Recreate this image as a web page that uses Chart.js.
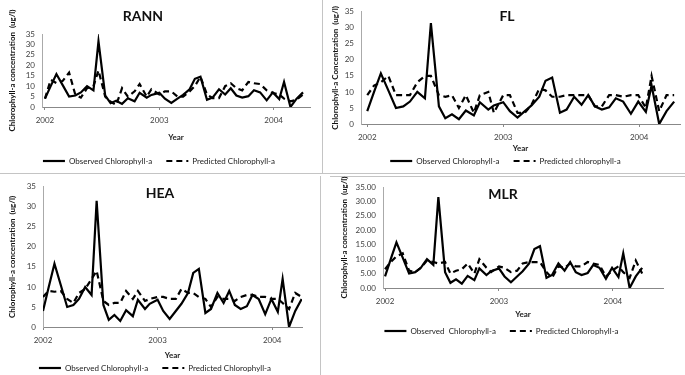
<!DOCTYPE html>
<html>
<head>
<meta charset="utf-8">
<script src="https://cdn.jsdelivr.net/npm/chart.js@4/dist/chart.umd.min.js"></script>
<style>
    body { margin: 0; width: 685px; height: 375px; overflow: hidden; position: relative; background: #fff; font-family: Lato, "Open Sans", sans-serif; }
    canvas { position: absolute; }
    .title { position: absolute; font-weight: bold; font-size: 14px; color: #111; transform: translate(-50%, -50%); white-space: nowrap; }
    .rule { position: absolute; background: #c4c4c4; }
</style>
</head>
<body>
<div class="rule" style="left:0;top:173px;width:685px;height:1px"></div>
<div class="rule" style="left:330px;top:176px;width:355px;height:1px"></div>
<div class="rule" style="left:322px;top:0;width:1px;height:173px"></div>
<div class="rule" style="left:320px;top:176px;width:1px;height:199px"></div>

<canvas id="rann" style="left:0;top:0"></canvas>
<canvas id="fl" style="left:322px;top:0"></canvas>
<canvas id="hea" style="left:0;top:175px"></canvas>
<canvas id="mlr" style="left:330px;top:175px"></canvas>

<div class="title" style="left:143px;top:15px">RANN</div>
<div class="title" style="left:507px;top:15px">FL</div>
<div class="title" style="left:160px;top:192px">HEA</div>
<div class="title" style="left:503px;top:193px">MLR</div>

<script>
// sampling dates as decimal years
const sampleYears = [
    2002.000, 2002.050, 2002.100, 2002.155, 2002.211, 2002.265, 2002.314, 2002.368, 2002.424, 2002.468,
    2002.527, 2002.574, 2002.623, 2002.674, 2002.725, 2002.784, 2002.828, 2002.890, 2002.931, 2003.000,
    2003.049, 2003.105, 2003.159, 2003.208, 2003.265, 2003.311, 2003.360, 2003.417, 2003.466, 2003.522,
    2003.576, 2003.625, 2003.674, 2003.725, 2003.779, 2003.828, 2003.882, 2003.939, 2003.993, 2004.049,
    2004.091, 2004.147, 2004.201, 2004.257
];
const yearTicks = [2002, 2003, 2004];

const observed = [
    4, 10, 15.8, 10.5, 5, 5.5, 7, 10, 8, 31.5,
    5.5, 1.8, 3, 1.5, 4.2, 2.7, 6.8, 4.5, 5.8, 6.8,
    4, 2, 4, 5.8, 8.5, 13.5, 14.5, 3.5, 4.5, 8.5,
    6, 9, 5.5, 4.5, 5.2, 8, 7, 3.2, 7, 3.8,
    12, 0, 4, 7
];
const predictedRANN = [
    4, 13, 11.5, 12.5, 16.5, 6, 4.5, 9, 10, 17.5,
    5, 2.5, 1, 9, 5, 7.5, 11, 5, 8.5, 6,
    7.5, 7.5, 5, 5, 7.5, 10, 14.5, 6, 4.3, 4.3,
    10, 11.4, 9, 8, 12, 11.4, 11, 8, 6.7, 6,
    4, 2.7, 3.5, 6
];
const predictedFL = [
    9, 12, 13, 15, 9, 9, 9, 13, 15, 15,
    9, 8.5, 9, 5, 9, 3.5, 9, 10, 3.5, 9,
    9, 3.5, 3.5, 6, 11, 10.5, 8.5, 8.5, 9, 9,
    9, 9, 5.5, 5.5, 9, 9, 8.5, 9, 9, 5,
    15, 4, 9, 9
];
const predictedHEA = [
    7.5, 9, 8.8, 9, 7, 6, 8.5, 9.5, 12, 14,
    6.5, 5.5, 6, 6, 9, 7, 9, 6.5, 7, 7.5,
    7.5, 7, 7, 9.5, 8.5, 8.5, 7.5, 7, 5, 7.5,
    7, 7, 6.5, 7.5, 8, 8, 7.5, 7.5, 7, 7,
    6, 4.5, 8.5, 7.5
];
const predictedMLR = [
    6.5, 9, 11, 12, 6, 5.5, 7, 9.5, 9, 8.5,
    9, 5, 6, 6.5, 8.5, 5, 10, 7, 5.5, 7.5,
    7, 5.5, 6, 8.5, 9, 9, 9, 5.5, 3.5, 7.5,
    7, 8.5, 7.5, 7.5, 9, 8.5, 8, 4, 6, 7.5,
    5.5, 3.5, 9.5, 5
];

Chart.defaults.font.family = "Lato, 'Open Sans', sans-serif";
Chart.defaults.color = "#404040";

const toPoints = values => sampleYears.map((x, i) => ({ x, y: values[i] }));

// point-style legend items take the point's style, so put the line's dash back
const lineLegendLabels = chart =>
    Chart.defaults.plugins.legend.labels.generateLabels(chart).map(item => {
        const ds = chart.data.datasets[item.datasetIndex];
        return { ...item, lineDash: ds.borderDash || [], lineWidth: ds.borderWidth };
    });

function buildPanel(id, p) {
    const canvas = document.getElementById(id);
    canvas.width = p.width;
    canvas.height = p.height;

    const legendGap = 14;
    const legendTop = p.legendY - legendGap - 4;
    const legendHeight = 8 + legendGap + 10;

    return new Chart(canvas, {
        type: "line",
        data: {
            datasets: [
                {
                    label: p.observedLabel,
                    data: toPoints(observed),
                    borderColor: "#000",
                    borderWidth: 2.2,
                    pointRadius: 0
                },
                {
                    label: p.predictedLabel,
                    data: toPoints(p.predicted),
                    borderColor: "#000",
                    borderWidth: 2.2,
                    borderDash: [6, 4],
                    pointRadius: 0
                }
            ]
        },
        options: {
            responsive: false,
            animation: false,
            devicePixelRatio: 1,
            layout: {
                padding: {
                    top: p.area.top,
                    left: p.padLeft,
                    right: p.width - p.area.right,
                    bottom: p.height - legendTop - legendHeight
                }
            },
            plugins: {
                legend: {
                    position: "bottom",
                    labels: {
                        usePointStyle: true,
                        pointStyle: "line",
                        pointStyleWidth: 22,
                        padding: legendGap,
                        color: "#222",
                        font: { size: 8 },
                        generateLabels: lineLegendLabels
                    }
                },
                tooltip: { enabled: false }
            },
            scales: {
                x: {
                    type: "linear",
                    min: p.xMin,
                    max: p.xMax,
                    afterBuildTicks: s => { s.ticks = yearTicks.map(value => ({ value })); },
                    afterFit: s => { s.height = legendTop - p.area.bottom; },
                    ticks: { callback: v => String(v), font: { size: 8 }, padding: 6, maxRotation: 0, autoSkip: false },
                    grid: { display: true, drawOnChartArea: false, tickLength: 3, color: "#888" },
                    border: { color: "#888" },
                    title: {
                        display: true,
                        text: "Year",
                        color: "#222",
                        font: { size: 8, weight: "bold" },
                        padding: { top: 0, bottom: legendTop - p.yearY - 4.8 }
                    }
                },
                y: {
                    min: 0,
                    max: 35,
                    afterFit: s => { s.width = p.area.left - p.padLeft; },
                    ticks: {
                        stepSize: 5,
                        padding: 7,
                        autoSkip: false,
                        font: { size: 8 },
                        callback: v => p.decimals ? v.toFixed(2) : String(v)
                    },
                    grid: { display: false, drawTicks: false },
                    border: { color: "#aaa" },
                    title: {
                        display: true,
                        text: p.yTitle,
                        color: "#111",
                        font: { size: 8, weight: "bold" },
                        padding: { top: 0, bottom: 0 }
                    }
                }
            }
        }
    });
}

buildPanel("rann", {
    width: 322, height: 178, padLeft: 8,
    area: { top: 34, left: 42, right: 310, bottom: 107 },
    yearY: 137, legendY: 161,
    xMin: 2001.974, xMax: 2004.318,
    predicted: predictedRANN,
    observedLabel: "Observed Chlorophyll-a",
    predictedLabel: "Predicted Chlorophyll-a",
    yTitle: "Chlorophyll-a concentration  (ug/l)"
});

buildPanel("fl", {
    width: 363, height: 178, padLeft: 9,
    area: { top: 7, left: 39, right: 358, bottom: 124 },
    yearY: 148, legendY: 161,
    xMin: 2001.954, xMax: 2004.30,
    predicted: predictedFL,
    observedLabel: "Observed Chlorophyll-a",
    predictedLabel: "Predicted chlorophyll-a",
    yTitle: "Chlorophyll-a Concentration  (ug/l)"
});

buildPanel("hea", {
    width: 320, height: 210, padLeft: 8,
    area: { top: 10, left: 43, right: 302, bottom: 152 },
    yearY: 180, legendY: 193,
    xMin: 2002, xMax: 2004.26,
    predicted: predictedHEA,
    observedLabel: "Observed Chlorophyll-a",
    predictedLabel: "Predicted Chlorophyll-a",
    yTitle: "Chlorophyll-a concentration  (ug/l)"
});

buildPanel("mlr", {
    width: 355, height: 200, padLeft: 10,
    area: { top: 12, left: 53, right: 333, bottom: 113 },
    yearY: 139, legendY: 156,
    xMin: 2001.982, xMax: 2004.44,
    decimals: true,
    predicted: predictedMLR,
    observedLabel: "Observed  Chlorophyll-a",
    predictedLabel: "Predicted Chlorophyll-a",
    yTitle: "Chlorophyll-a concentration  (ug/l)"
});
</script>
</body>
</html>
